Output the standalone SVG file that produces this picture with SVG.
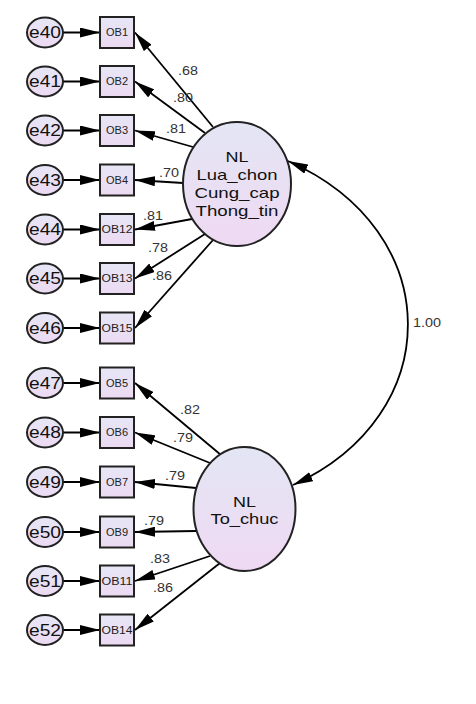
<svg xmlns="http://www.w3.org/2000/svg" width="476" height="704" viewBox="0 0 476 704">
<defs>
<linearGradient id="gLat" x1="0" y1="0" x2="0" y2="1">
<stop offset="0" stop-color="#e3e6f4"/>
<stop offset="1" stop-color="#efd9f3"/>
</linearGradient>
<linearGradient id="gSm" x1="0" y1="0" x2="0" y2="1">
<stop offset="0" stop-color="#e6e6f5"/>
<stop offset="1" stop-color="#ecdaf2"/>
</linearGradient>
<marker id="ah" viewBox="0 0 20 10" markerWidth="20" markerHeight="10" markerUnits="userSpaceOnUse" refX="20" refY="5" orient="auto-start-reverse">
<path d="M0,0 L20,5 L0,10 z" fill="#000"/>
</marker>
</defs>
<style>
.err{fill:url(#gSm);stroke:#222;stroke-width:2}
.box{fill:url(#gSm);stroke:#222;stroke-width:2}
.lat{fill:url(#gLat);stroke:#222;stroke-width:2}
.et{font-family:"Liberation Sans",Arial,sans-serif;font-size:16px;fill:#111;text-anchor:middle}
.bt{font-family:"Liberation Sans",Arial,sans-serif;font-size:10px;fill:#222;text-anchor:middle}
.lt{font-family:"Liberation Sans",Arial,sans-serif;font-size:15px;fill:#111;text-anchor:middle}
.nt{font-family:"Liberation Sans",Arial,sans-serif;font-size:13.5px;fill:#333}
.c{stroke:#000;stroke-width:1.8;fill:none;marker-end:url(#ah)}
</style>
<rect width="476" height="704" fill="#fff"/>
<g id="connectors">
<line class="c" x1="63" y1="32.5" x2="100" y2="32.5"/>
<line class="c" x1="63" y1="81.5" x2="100" y2="81.5"/>
<line class="c" x1="63" y1="130.5" x2="100" y2="130.5"/>
<line class="c" x1="63" y1="180" x2="100" y2="180"/>
<line class="c" x1="63" y1="229.5" x2="100" y2="229.5"/>
<line class="c" x1="63" y1="278.5" x2="100" y2="278.5"/>
<line class="c" x1="63" y1="328" x2="100" y2="328"/>
<line class="c" x1="63" y1="383" x2="100" y2="383"/>
<line class="c" x1="63" y1="432.5" x2="100" y2="432.5"/>
<line class="c" x1="63" y1="482" x2="100" y2="482"/>
<line class="c" x1="63" y1="532" x2="100" y2="532"/>
<line class="c" x1="63" y1="581" x2="100" y2="581"/>
<line class="c" x1="63" y1="630" x2="100" y2="630"/>
<line class="c" x1="213" y1="127" x2="135" y2="32.5"/>
<line class="c" x1="205" y1="133" x2="135" y2="81.5"/>
<line class="c" x1="193" y1="147" x2="135" y2="130.5"/>
<line class="c" x1="183" y1="183" x2="135" y2="180"/>
<line class="c" x1="192" y1="219" x2="135" y2="229.5"/>
<line class="c" x1="205" y1="234" x2="135" y2="278.5"/>
<line class="c" x1="213" y1="240" x2="135" y2="328"/>
<line class="c" x1="221" y1="455" x2="135" y2="383"/>
<line class="c" x1="210" y1="463" x2="135" y2="432.5"/>
<line class="c" x1="196" y1="488" x2="135" y2="482"/>
<line class="c" x1="196" y1="531" x2="135" y2="532"/>
<line class="c" x1="210" y1="556" x2="135" y2="581"/>
<line class="c" x1="220" y1="563" x2="135" y2="630"/>
<path class="c" style="marker-start:url(#ah)" d="M288,161 C447,231 447,415 293,485"/>
<text class="nt" x="178" y="75" textLength="20" lengthAdjust="spacingAndGlyphs">.68</text>
<text class="nt" x="173" y="102" textLength="20" lengthAdjust="spacingAndGlyphs">.80</text>
<text class="nt" x="166" y="133" textLength="20" lengthAdjust="spacingAndGlyphs">.81</text>
<text class="nt" x="159" y="177" textLength="20" lengthAdjust="spacingAndGlyphs">.70</text>
<text class="nt" x="143" y="220" textLength="20" lengthAdjust="spacingAndGlyphs">.81</text>
<text class="nt" x="148" y="252" textLength="20" lengthAdjust="spacingAndGlyphs">.78</text>
<text class="nt" x="152" y="280" textLength="20" lengthAdjust="spacingAndGlyphs">.86</text>
<text class="nt" x="180" y="414" textLength="20" lengthAdjust="spacingAndGlyphs">.82</text>
<text class="nt" x="173" y="442" textLength="20" lengthAdjust="spacingAndGlyphs">.79</text>
<text class="nt" x="165" y="480" textLength="20" lengthAdjust="spacingAndGlyphs">.79</text>
<text class="nt" x="144" y="525" textLength="20" lengthAdjust="spacingAndGlyphs">.79</text>
<text class="nt" x="150" y="563" textLength="20" lengthAdjust="spacingAndGlyphs">.83</text>
<text class="nt" x="153" y="592" textLength="20" lengthAdjust="spacingAndGlyphs">.86</text>
<text class="nt" x="413" y="327" textLength="28" lengthAdjust="spacingAndGlyphs">1.00</text>
</g>
<g id="e40"><ellipse class="err" cx="45" cy="32.5" rx="18" ry="15"/><text class="et" x="45" y="38" textLength="32" lengthAdjust="spacingAndGlyphs">e40</text></g>
<g id="e41"><ellipse class="err" cx="45" cy="81.5" rx="18" ry="15"/><text class="et" x="45" y="87" textLength="32" lengthAdjust="spacingAndGlyphs">e41</text></g>
<g id="e42"><ellipse class="err" cx="45" cy="130.5" rx="18" ry="15"/><text class="et" x="45" y="136" textLength="32" lengthAdjust="spacingAndGlyphs">e42</text></g>
<g id="e43"><ellipse class="err" cx="45" cy="180" rx="18" ry="15"/><text class="et" x="45" y="185.5" textLength="32" lengthAdjust="spacingAndGlyphs">e43</text></g>
<g id="e44"><ellipse class="err" cx="45" cy="229.5" rx="18" ry="15"/><text class="et" x="45" y="235" textLength="32" lengthAdjust="spacingAndGlyphs">e44</text></g>
<g id="e45"><ellipse class="err" cx="45" cy="278.5" rx="18" ry="15"/><text class="et" x="45" y="284" textLength="32" lengthAdjust="spacingAndGlyphs">e45</text></g>
<g id="e46"><ellipse class="err" cx="45" cy="328" rx="18" ry="15"/><text class="et" x="45" y="333.5" textLength="32" lengthAdjust="spacingAndGlyphs">e46</text></g>
<g id="e47"><ellipse class="err" cx="45" cy="383" rx="18" ry="15"/><text class="et" x="45" y="388.5" textLength="32" lengthAdjust="spacingAndGlyphs">e47</text></g>
<g id="e48"><ellipse class="err" cx="45" cy="432.5" rx="18" ry="15"/><text class="et" x="45" y="438" textLength="32" lengthAdjust="spacingAndGlyphs">e48</text></g>
<g id="e49"><ellipse class="err" cx="45" cy="482" rx="18" ry="15"/><text class="et" x="45" y="487.5" textLength="32" lengthAdjust="spacingAndGlyphs">e49</text></g>
<g id="e50"><ellipse class="err" cx="45" cy="532" rx="18" ry="15"/><text class="et" x="45" y="537.5" textLength="32" lengthAdjust="spacingAndGlyphs">e50</text></g>
<g id="e51"><ellipse class="err" cx="45" cy="581" rx="18" ry="15"/><text class="et" x="45" y="586.5" textLength="32" lengthAdjust="spacingAndGlyphs">e51</text></g>
<g id="e52"><ellipse class="err" cx="45" cy="630" rx="18" ry="15"/><text class="et" x="45" y="635.5" textLength="32" lengthAdjust="spacingAndGlyphs">e52</text></g>
<g id="OB1"><rect class="box" x="100" y="17" width="34" height="31"/><text class="bt" x="117" y="36" textLength="22" lengthAdjust="spacingAndGlyphs">OB1</text></g>
<g id="OB2"><rect class="box" x="100" y="66" width="34" height="31"/><text class="bt" x="117" y="85" textLength="22" lengthAdjust="spacingAndGlyphs">OB2</text></g>
<g id="OB3"><rect class="box" x="100" y="115" width="34" height="31"/><text class="bt" x="117" y="134" textLength="22" lengthAdjust="spacingAndGlyphs">OB3</text></g>
<g id="OB4"><rect class="box" x="100" y="164.5" width="34" height="31"/><text class="bt" x="117" y="183.5" textLength="22" lengthAdjust="spacingAndGlyphs">OB4</text></g>
<g id="OB12"><rect class="box" x="100" y="214" width="34" height="31"/><text class="bt" x="117" y="233" textLength="31" lengthAdjust="spacingAndGlyphs">OB12</text></g>
<g id="OB13"><rect class="box" x="100" y="263" width="34" height="31"/><text class="bt" x="117" y="282" textLength="31" lengthAdjust="spacingAndGlyphs">OB13</text></g>
<g id="OB15"><rect class="box" x="100" y="312.5" width="34" height="31"/><text class="bt" x="117" y="331.5" textLength="31" lengthAdjust="spacingAndGlyphs">OB15</text></g>
<g id="OB5"><rect class="box" x="100" y="367.5" width="34" height="31"/><text class="bt" x="117" y="386.5" textLength="22" lengthAdjust="spacingAndGlyphs">OB5</text></g>
<g id="OB6"><rect class="box" x="100" y="417" width="34" height="31"/><text class="bt" x="117" y="436" textLength="22" lengthAdjust="spacingAndGlyphs">OB6</text></g>
<g id="OB7"><rect class="box" x="100" y="466.5" width="34" height="31"/><text class="bt" x="117" y="485.5" textLength="22" lengthAdjust="spacingAndGlyphs">OB7</text></g>
<g id="OB9"><rect class="box" x="100" y="516.5" width="34" height="31"/><text class="bt" x="117" y="535.5" textLength="22" lengthAdjust="spacingAndGlyphs">OB9</text></g>
<g id="OB11"><rect class="box" x="100" y="565.5" width="34" height="31"/><text class="bt" x="117" y="584.5" textLength="31" lengthAdjust="spacingAndGlyphs">OB11</text></g>
<g id="OB14"><rect class="box" x="100" y="614.5" width="34" height="31"/><text class="bt" x="117" y="633.5" textLength="31" lengthAdjust="spacingAndGlyphs">OB14</text></g>
<g id="NL_Lua_chon">
<ellipse class="lat" cx="237" cy="184" rx="54" ry="62"/>
<text class="lt" x="237" y="162" textLength="23" lengthAdjust="spacingAndGlyphs">NL</text>
<text class="lt" x="237" y="180" textLength="81" lengthAdjust="spacingAndGlyphs">Lua_chon</text>
<text class="lt" x="237" y="198" textLength="85" lengthAdjust="spacingAndGlyphs">Cung_cap</text>
<text class="lt" x="237" y="216" textLength="83" lengthAdjust="spacingAndGlyphs">Thong_tin</text>
</g>
<g id="NL_To_chuc">
<ellipse class="lat" cx="244.5" cy="509" rx="51" ry="62"/>
<text class="lt" x="244.5" y="507" textLength="23" lengthAdjust="spacingAndGlyphs">NL</text>
<text class="lt" x="244.5" y="524" textLength="68" lengthAdjust="spacingAndGlyphs">To_chuc</text>
</g>
</svg>
